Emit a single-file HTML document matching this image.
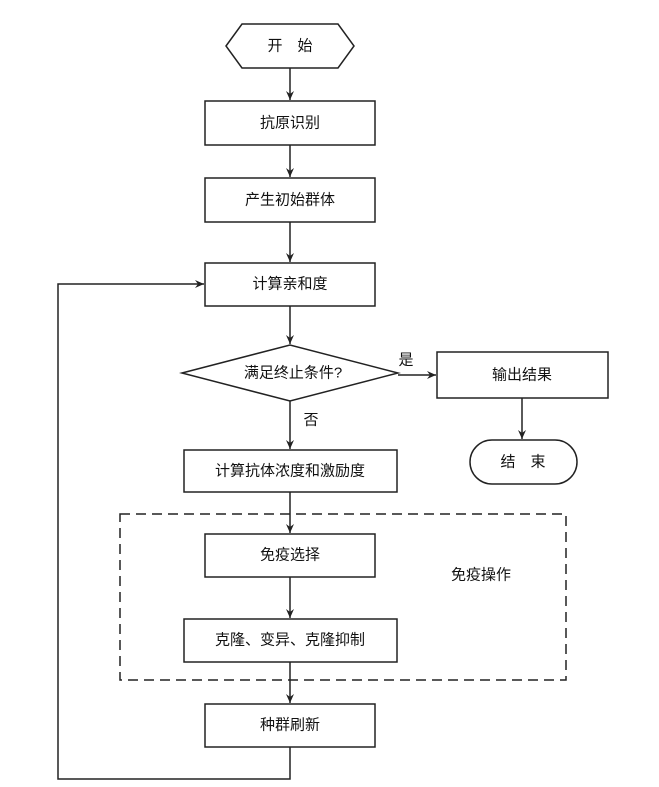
<!DOCTYPE html>
<html><head><meta charset="utf-8"><style>
html,body{margin:0;padding:0;background:#fff}
svg{display:block}
text{font-family:"Liberation Sans","Noto Sans CJK SC",sans-serif;font-size:15px;fill:#111;text-anchor:middle;dominant-baseline:central}
</style></head><body>
<svg width="659" height="787" viewBox="0 0 659 787" xmlns="http://www.w3.org/2000/svg">
<defs><marker id="a" markerWidth="10" markerHeight="10" refX="9" refY="5" orient="auto" markerUnits="userSpaceOnUse"><path d="M0,1 L9,5 L0,9 L3,5 Z" fill="#222"/></marker></defs>
<g stroke="#222" stroke-width="1.5" fill="#fff">
<polygon points="226,46 242,24 338,24 354,46 338,68 242,68"/>
<rect x="205" y="101" width="170" height="44"/>
<rect x="205" y="178" width="170" height="44"/>
<rect x="205" y="263" width="170" height="43"/>
<polygon points="182,373 290,345 398,373 290,401"/>
<rect x="437" y="352" width="171" height="46"/>
<rect x="470" y="440" width="107" height="44" rx="22"/>
<rect x="184" y="450" width="213" height="42"/>
<rect x="120" y="514" width="446" height="166" fill="none" stroke-dasharray="10,6"/>
<rect x="205" y="534" width="170" height="43"/>
<rect x="184" y="619" width="213" height="43"/>
<rect x="205" y="704" width="170" height="43"/>
</g>
<g stroke="#222" stroke-width="1.5" fill="none">
<line x1="290" y1="68" x2="290" y2="100" marker-end="url(#a)"/>
<line x1="290" y1="145" x2="290" y2="177" marker-end="url(#a)"/>
<line x1="290" y1="222" x2="290" y2="262" marker-end="url(#a)"/>
<line x1="290" y1="306" x2="290" y2="344" marker-end="url(#a)"/>
<line x1="398" y1="375" x2="436" y2="375" marker-end="url(#a)"/>
<line x1="522" y1="398" x2="522" y2="439" marker-end="url(#a)"/>
<line x1="290" y1="401" x2="290" y2="449" marker-end="url(#a)"/>
<line x1="290" y1="492" x2="290" y2="533" marker-end="url(#a)"/>
<line x1="290" y1="577" x2="290" y2="618" marker-end="url(#a)"/>
<line x1="290" y1="662" x2="290" y2="703" marker-end="url(#a)"/>
<polyline points="290,747 290,779 58,779 58,284 204,284" marker-end="url(#a)"/>
</g>
<text x="290" y="46">开　始</text>
<text x="290" y="123">抗原识别</text>
<text x="290" y="200">产生初始群体</text>
<text x="290" y="284">计算亲和度</text>
<text x="293" y="373">满足终止条件?</text>
<text x="406" y="360">是</text>
<text x="522" y="375">输出结果</text>
<text x="523" y="462">结　束</text>
<text x="311" y="420">否</text>
<text x="290" y="471">计算抗体浓度和激励度</text>
<text x="290" y="555">免疫选择</text>
<text x="481" y="575">免疫操作</text>
<text x="290" y="640">克隆、变异、克隆抑制</text>
<text x="290" y="725">种群刷新</text>
</svg>
</body></html>
